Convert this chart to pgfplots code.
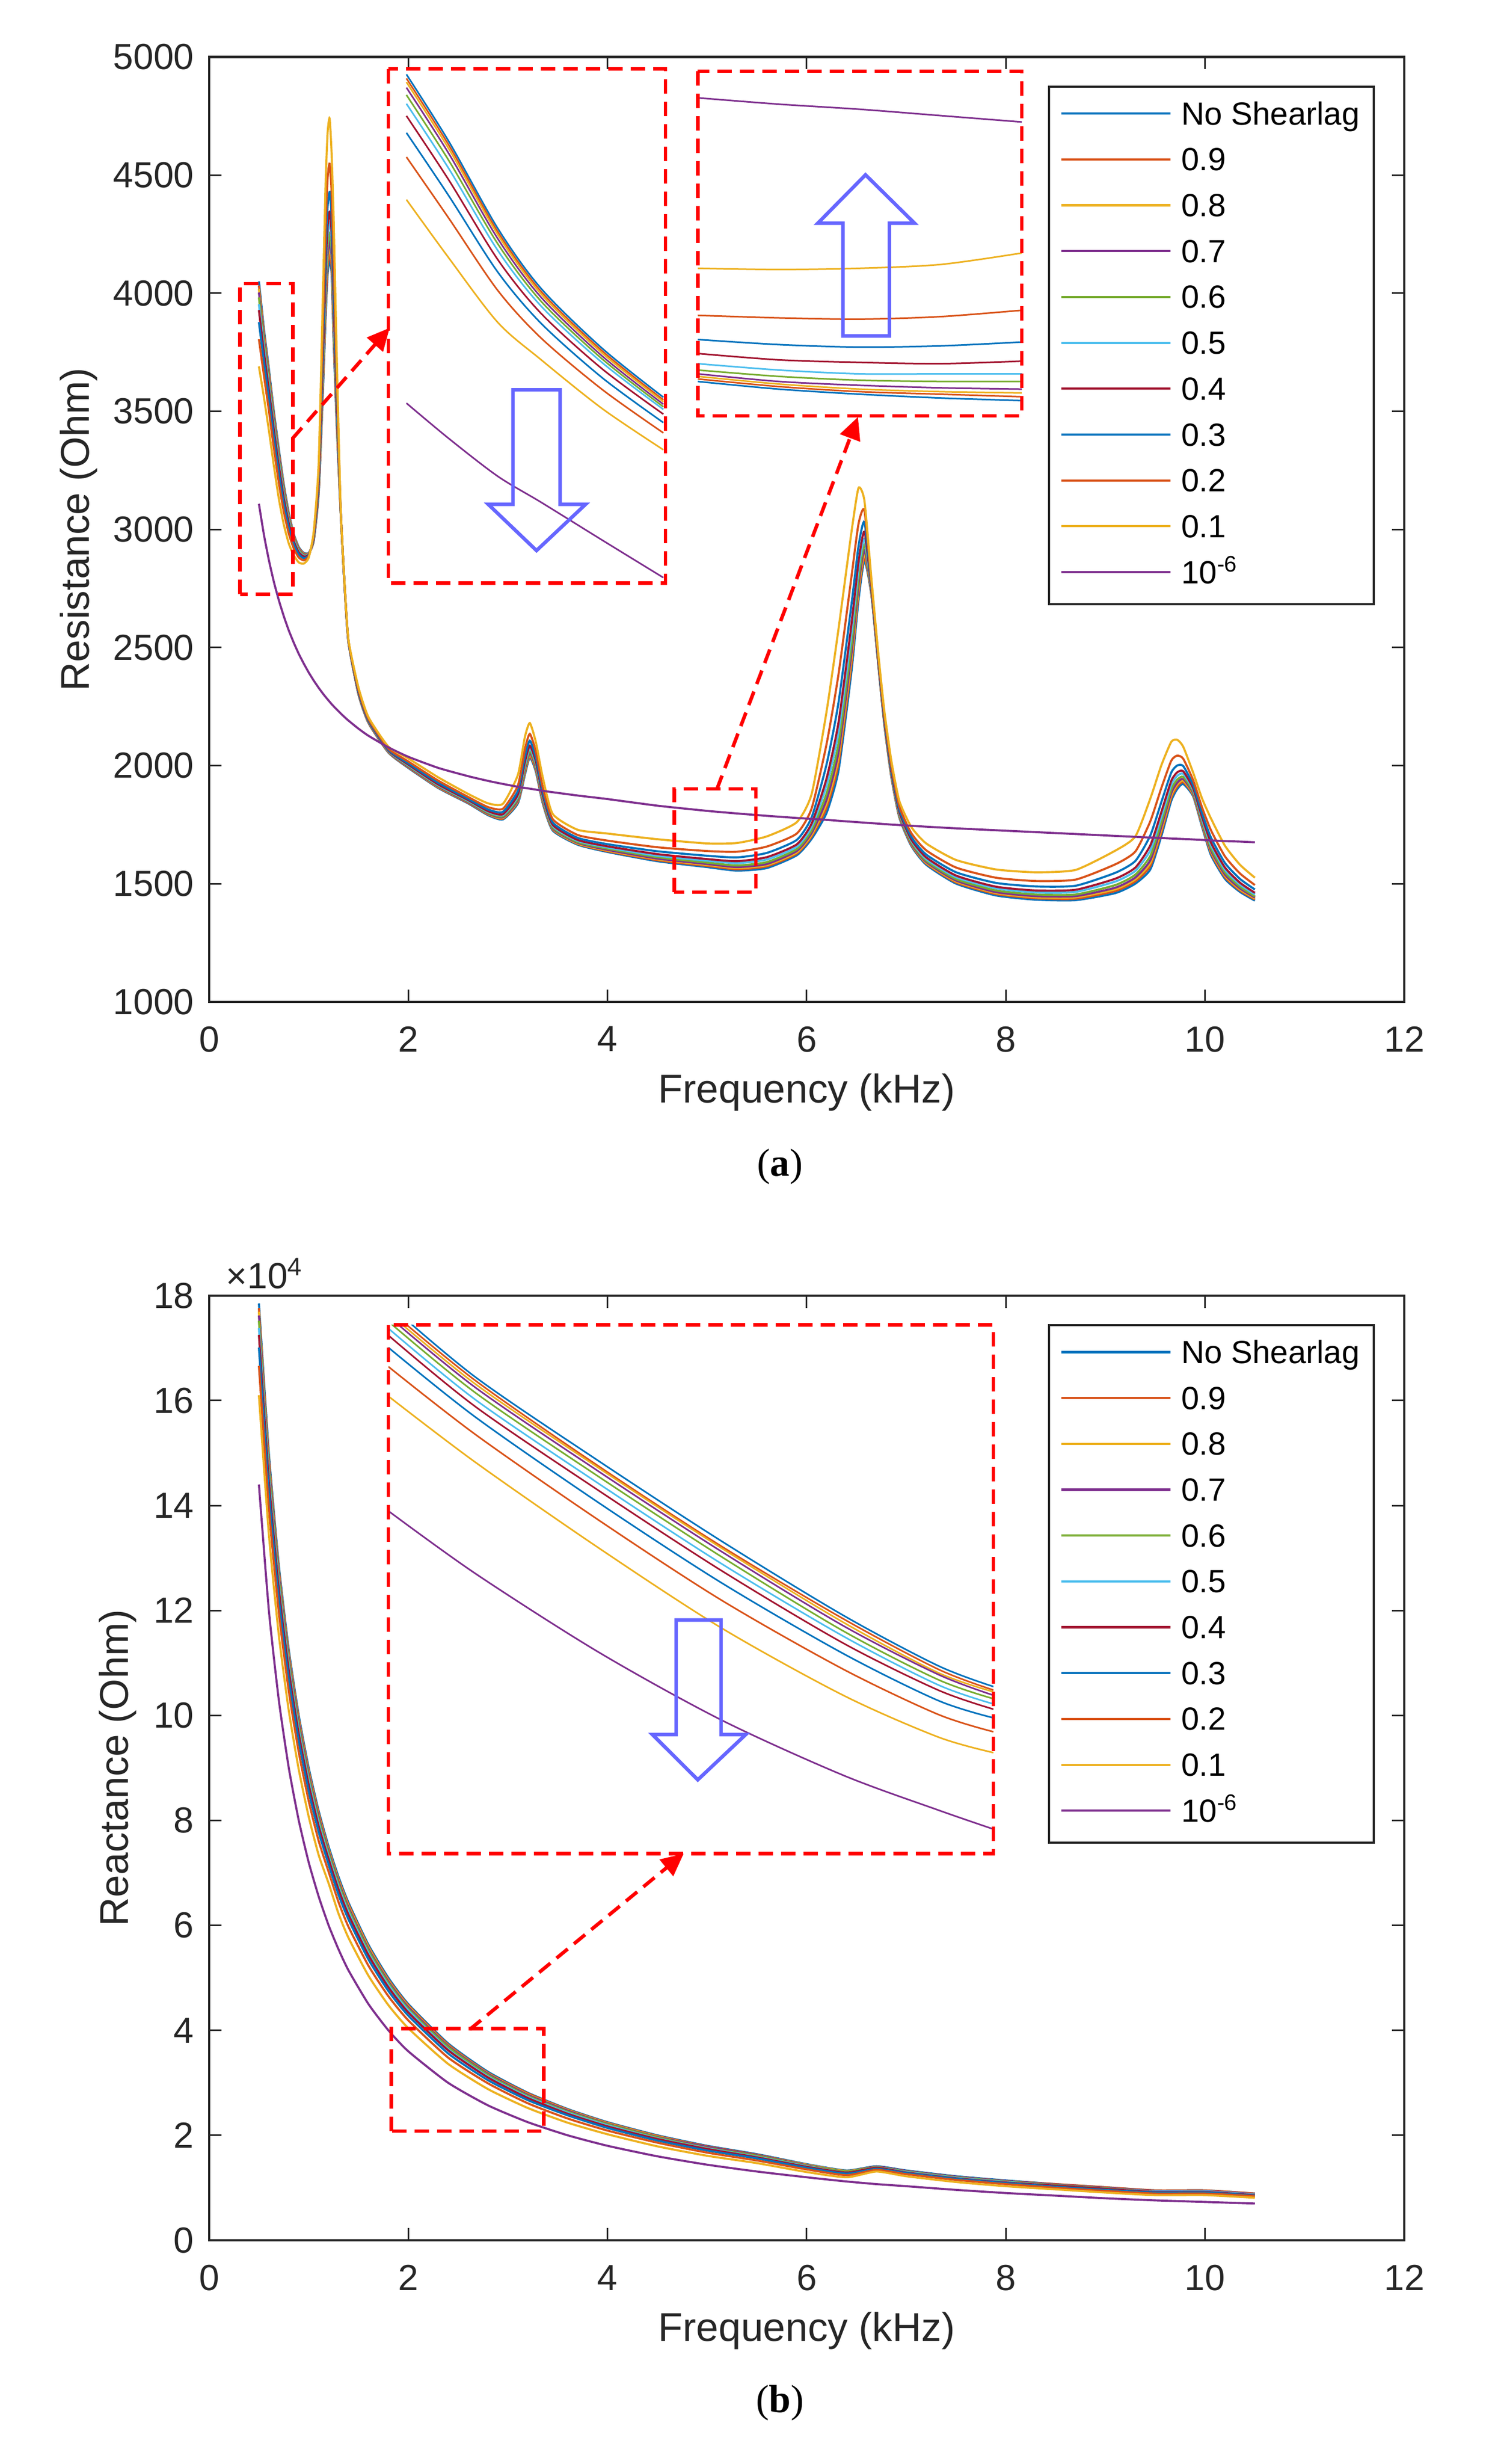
\documentclass[border=0pt]{standalone}
\usepackage{fontspec}
\setmainfont{Liberation Sans}
\newfontfamily\seriffont{Liberation Serif}
\usepackage{pgfplots}
\pgfplotsset{compat=1.18}
\usepackage{pgfplotstable}
\usetikzlibrary{arrows.meta}

\definecolor{c1}{RGB}{0,114,189}
\definecolor{c2}{RGB}{217,83,25}
\definecolor{c3}{RGB}{237,177,32}
\definecolor{c4}{RGB}{126,47,142}
\definecolor{c5}{RGB}{119,172,48}
\definecolor{c6}{RGB}{77,190,238}
\definecolor{c7}{RGB}{162,20,47}
\definecolor{axgray}{RGB}{38,38,38}
\definecolor{zoomred}{RGB}{255,0,0}
\definecolor{arrowblue}{RGB}{102,102,255}

% resistance (Ohm): ns = no shear lag, s9..s1 = 0.9..0.1, s0 = 1e-6
\pgfplotstableread{
f ns s9 s8 s7 s6 s5 s4 s3 s2 s1 s0
0.50 4050 4032 4018 4003 3982 3953 3928 3877 3805 3690 3108
0.55 3850 3835 3824 3812 3795 3772 3751 3711 3653 3560 2978
0.60 3680 3667 3657 3646 3631 3610 3592 3555 3503 3420 2870
0.65 3500 3488 3479 3470 3456 3438 3422 3390 3344 3270 2778
0.70 3340 3329 3321 3313 3300 3283 3269 3239 3197 3130 2700
0.75 3190 3181 3175 3168 3158 3144 3132 3108 3074 3020 2632
0.80 3070 3063 3058 3053 3045 3035 3026 3008 2982 2940 2572
0.85 2980 2975 2972 2968 2963 2956 2949 2937 2919 2890 2520
0.90 2925 2922 2919 2917 2913 2907 2903 2894 2881 2860 2473
0.95 2900 2898 2896 2894 2891 2888 2885 2878 2869 2855 2432
1.00 2900 2899 2898 2897 2896 2895 2893 2890 2886 2880 2394
1.05 2950 2952 2954 2955 2958 2961 2964 2969 2977 2990 2360
1.10 3150 3157 3162 3167 3175 3185 3194 3212 3238 3280 2329
1.14 3550 3570 3586 3602 3626 3658 3686 3742 3822 3950 2306
1.17 3900 3929 3951 3974 4008 4054 4094 4174 4288 4470 2290
1.19 4080 4110 4134 4158 4194 4242 4284 4368 4488 4680 2280
1.21 4140 4170 4194 4218 4254 4302 4344 4428 4548 4740 2270
1.23 4080 4106 4126 4146 4177 4218 4253 4325 4427 4590 2260
1.25 3800 3826 3847 3868 3899 3940 3977 4050 4154 4320 2251
1.28 3450 3466 3478 3490 3509 3534 3555 3599 3661 3760 2238
1.32 3080 3081 3082 3083 3084 3085 3087 3090 3094 3100 2221
1.36 2760 2760 2761 2761 2762 2763 2763 2765 2767 2770 2205
1.40 2520 2520 2521 2521 2522 2522 2523 2524 2527 2530 2190
1.50 2300 2302 2303 2304 2306 2308 2310 2314 2320 2330 2156
1.60 2180 2181 2182 2183 2185 2187 2189 2192 2197 2205 2126
1.80 2055 2056 2057 2058 2060 2062 2064 2067 2072 2080 2077
2.00 1990 1992 1994 1995 1998 2001 2004 2009 2017 2030 2037
2.30 1905 1907 1909 1911 1914 1917 1920 1927 1936 1950 1990
2.60 1840 1842 1844 1845 1848 1851 1854 1859 1867 1880 1955
2.80 1790 1793 1795 1797 1800 1804 1807 1814 1824 1840 1935
2.95 1772 1775 1778 1781 1785 1790 1794 1804 1817 1838 1922
3.10 1840 1846 1850 1854 1861 1870 1877 1893 1915 1960 1910
3.17 1960 1968 1974 1981 1990 2003 2014 2037 2069 2120 1905
3.22 2035 2042 2048 2054 2063 2074 2084 2105 2134 2180 1902
3.28 1975 1981 1986 1991 1999 2009 2018 2035 2060 2100 1898
3.35 1840 1845 1849 1853 1859 1867 1874 1888 1908 1950 1893
3.45 1725 1729 1731 1734 1738 1744 1749 1759 1773 1795 1887
3.70 1665 1668 1670 1673 1676 1681 1685 1694 1706 1728 1873
4.00 1634 1637 1640 1643 1648 1653 1658 1667 1682 1712 1858
4.50 1595 1599 1603 1606 1612 1618 1625 1637 1654 1688 1830
5.00 1570 1575 1579 1583 1589 1597 1604 1618 1638 1670 1808
5.30 1555 1561 1566 1570 1577 1587 1595 1611 1635 1672 1797
5.60 1566 1573 1578 1583 1591 1602 1612 1630 1657 1700 1787
5.90 1620 1627 1632 1638 1646 1656 1666 1685 1712 1760 1778
6.05 1690 1700 1707 1715 1726 1741 1755 1781 1819 1880 1774
6.20 1800 1822 1839 1856 1882 1916 1946 2006 2092 2230 1770
6.32 1980 2010 2034 2058 2094 2142 2184 2268 2388 2580 1766
6.45 2400 2430 2453 2477 2512 2559 2601 2683 2801 2990 1762
6.52 2700 2724 2743 2762 2790 2828 2862 2928 3023 3175 1760
6.58 2868 2882 2896 2912 2935 2960 2990 3030 3080 3120 1758
6.65 2720 2724 2726 2729 2733 2739 2744 2754 2768 2790 1756
6.72 2420 2423 2425 2427 2430 2434 2437 2444 2454 2470 1754
6.78 2170 2173 2175 2178 2181 2186 2190 2199 2211 2230 1752
6.85 1950 1954 1956 1959 1963 1969 1974 1984 1998 2020 1750
6.93 1780 1784 1786 1789 1793 1799 1804 1814 1828 1850 1748
7.05 1660 1664 1667 1670 1675 1682 1687 1698 1714 1740 1745
7.20 1580 1585 1588 1592 1597 1604 1611 1623 1641 1670 1741
7.50 1500 1505 1509 1513 1519 1527 1534 1548 1568 1600 1734
7.90 1450 1456 1460 1464 1471 1480 1487 1503 1525 1560 1726
8.30 1432 1438 1442 1447 1454 1463 1471 1488 1511 1548 1718
8.70 1430 1436 1442 1447 1454 1465 1474 1491 1517 1558 1710
9.10 1460 1469 1476 1483 1494 1509 1521 1546 1582 1640 1702
9.30 1500 1510 1518 1526 1538 1554 1568 1596 1636 1700 1698
9.45 1560 1575 1587 1599 1617 1641 1662 1704 1764 1860 1695
9.56 1700 1715 1727 1739 1757 1781 1802 1844 1904 2000 1693
9.66 1850 1863 1873 1883 1898 1918 1935 1970 2020 2100 1691
9.72 1900 1910 1919 1927 1940 1956 1971 2000 2042 2109 1690
9.78 1922 1930 1936 1943 1952 1965 1976 1998 2029 2080 1689
9.88 1870 1875 1879 1883 1889 1897 1904 1918 1938 1970 1687
9.97 1740 1746 1751 1756 1763 1772 1781 1798 1822 1860 1685
10.06 1620 1628 1634 1640 1649 1662 1673 1694 1725 1775 1683
10.20 1520 1527 1533 1538 1547 1558 1568 1587 1615 1660 1680
10.35 1465 1471 1475 1480 1487 1496 1504 1520 1543 1580 1678
10.50 1428 1433 1437 1441 1446 1454 1461 1475 1494 1525 1675
}\resist

% reactance (x 10^4 Ohm)
\pgfplotstableread{
f ns s9 s8 s7 s6 s5 s4 s3 s2 s1 s0
0.5 17.85 17.76 17.69 17.62 17.52 17.38 17.25 17.01 16.66 16.10 14.40
0.6 15.00 14.92 14.86 14.80 14.71 14.58 14.47 14.26 13.95 13.45 12.00
0.7 12.86 12.79 12.74 12.69 12.61 12.50 12.41 12.22 11.96 11.53 10.29
0.8 11.25 11.19 11.15 11.10 11.03 10.94 10.86 10.69 10.46 10.09 9.00
0.9 10.00 9.95 9.91 9.87 9.80 9.72 9.65 9.51 9.30 8.97 8.00
1.0 9.00 8.95 8.92 8.88 8.82 8.75 8.68 8.55 8.37 8.07 7.20
1.1 8.18 8.14 8.10 8.07 8.02 7.95 7.89 7.78 7.61 7.34 6.55
1.2 7.50 7.46 7.44 7.41 7.37 7.31 7.26 7.16 7.02 6.80 6.00
1.3 6.92 6.88 6.86 6.83 6.79 6.73 6.68 6.58 6.44 6.22 5.54
1.4 6.43 6.40 6.37 6.34 6.30 6.25 6.20 6.11 5.97 5.76 5.14
1.6 5.63 5.60 5.58 5.55 5.52 5.47 5.43 5.35 5.23 5.04 4.50
1.8 5.00 4.97 4.95 4.93 4.90 4.86 4.82 4.75 4.65 4.48 4.00
2.0 4.50 4.48 4.46 4.44 4.41 4.38 4.34 4.28 4.19 4.04 3.60
2.4 3.75 3.73 3.71 3.70 3.68 3.64 3.62 3.56 3.48 3.36 3.00
2.8 3.21 3.19 3.18 3.17 3.15 3.12 3.10 3.05 2.99 2.88 2.57
3.2 2.81 2.80 2.78 2.77 2.75 2.73 2.71 2.67 2.61 2.52 2.25
3.6 2.50 2.49 2.48 2.47 2.45 2.43 2.41 2.38 2.32 2.24 2.00
4.0 2.25 2.24 2.23 2.22 2.21 2.19 2.17 2.14 2.09 2.02 1.80
4.5 2.00 1.99 1.98 1.97 1.96 1.94 1.93 1.90 1.86 1.79 1.60
5.0 1.80 1.79 1.78 1.78 1.76 1.75 1.74 1.71 1.67 1.61 1.44
5.5 1.64 1.63 1.62 1.62 1.61 1.59 1.58 1.56 1.52 1.47 1.31
6.0 1.45 1.44 1.44 1.43 1.42 1.41 1.40 1.38 1.35 1.30 1.20
6.4 1.33 1.32 1.32 1.31 1.31 1.29 1.29 1.27 1.24 1.20 1.12
6.7 1.41 1.40 1.40 1.40 1.39 1.38 1.38 1.36 1.34 1.31 1.07
7.0 1.33 1.32 1.32 1.32 1.31 1.30 1.29 1.28 1.26 1.22 1.03
7.5 1.22 1.21 1.21 1.21 1.20 1.19 1.18 1.17 1.15 1.11 0.96
8.0 1.14 1.13 1.13 1.13 1.12 1.11 1.10 1.09 1.07 1.03 0.90
8.5 1.07 1.07 1.06 1.06 1.05 1.04 1.04 1.02 1.00 0.97 0.85
9.0 1.01 1.01 1.00 1.00 0.99 0.98 0.98 0.96 0.94 0.91 0.80
9.5 0.95 0.95 0.94 0.94 0.93 0.93 0.92 0.91 0.89 0.86 0.76
10.0 0.95 0.95 0.94 0.94 0.93 0.93 0.92 0.91 0.89 0.86 0.73
10.5 0.89 0.89 0.88 0.88 0.87 0.87 0.86 0.85 0.84 0.81 0.70
}\react

% zoomed views
\pgfplotstableread{
f ns s9 s8 s7 s6 s5 s4 s3 s2 s1 s0
0.500 4085 4074 4064 4049 4029 4005 3972 3926 3860 3744 3190
0.558 3901 3891 3881 3868 3849 3827 3796 3753 3692 3584 3093
0.624 3666 3657 3649 3638 3624 3606 3581 3547 3497 3410 2991
0.683 3502 3494 3487 3478 3467 3454 3434 3407 3367 3308 2920
0.766 3339 3332 3326 3318 3310 3300 3283 3259 3227 3175 2817
0.849 3206 3199 3194 3187 3180 3173 3160 3137 3109 3063 2715
}\zoomA

\pgfplotstableread{
f ns s9 s8 s7 s6 s5 s4 s3 s2 s1 s0
4.7 1586 1588 1590 1592 1595 1600 1608 1619 1638 1675 1809
4.9 1580 1582 1584 1586 1590 1595 1603 1615 1636 1674 1804
5.1 1576 1578 1580 1583 1587 1592 1601 1613 1635 1675 1800
5.3 1573 1576 1578 1581 1586 1592 1600 1614 1637 1678 1795
5.5 1571 1574 1577 1580 1586 1592 1602 1617 1642 1687 1790
}\zoomB

\pgfplotstableread{
f ns s9 s8 s7 s6 s5 s4 s3 s2 s1 s0
1.83 5.14 5.11 5.09 5.07 5.04 5.00 4.96 4.89 4.78 4.61 3.95
2.05 4.72 4.70 4.68 4.66 4.63 4.59 4.55 4.49 4.39 4.23 3.59
2.36 4.24 4.21 4.20 4.18 4.15 4.11 4.07 4.00 3.90 3.74 3.14
2.67 3.78 3.75 3.74 3.72 3.69 3.65 3.61 3.54 3.44 3.28 2.75
2.98 3.35 3.33 3.31 3.29 3.26 3.23 3.19 3.13 3.04 2.89 2.43
3.22 3.06 3.04 3.02 3.01 2.98 2.95 2.92 2.86 2.78 2.65 2.23
3.36 2.94 2.92 2.91 2.89 2.87 2.84 2.81 2.76 2.68 2.56 2.12
}\zoomC

\newcommand\allseries[1]{%
  \addplot[c1] table[x=f,y=ns]{#1};
  \addplot[c2] table[x=f,y=s9]{#1};
  \addplot[c3] table[x=f,y=s8]{#1};
  \addplot[c4] table[x=f,y=s7]{#1};
  \addplot[c5] table[x=f,y=s6]{#1};
  \addplot[c6] table[x=f,y=s5]{#1};
  \addplot[c7] table[x=f,y=s4]{#1};
  \addplot[c1] table[x=f,y=s3]{#1};
  \addplot[c2] table[x=f,y=s2]{#1};
  \addplot[c3] table[x=f,y=s1]{#1};
  \addplot[c4] table[x=f,y=s0]{#1};
}

\tikzset{
  zoombox/.style={zoomred, line width=1.1pt, dash pattern=on 4.5pt off 2.5pt},
  zoomarrow/.style={zoomred, line width=1.1pt, dash pattern=on 4.5pt off 2.5pt,
    -{Triangle[length=7pt,width=6.5pt]}},
  bluearrow/.style={arrowblue, line width=1.1pt, line join=miter},
}

\pgfplotsset{
  mainax/.style={
    scale only axis, width=372.35pt, height=294.2pt, anchor=north west,
    xmin=0, xmax=12, xtick={0,2,...,12},
    tick align=inside, tick pos=both, major tick length=3.8pt,
    axis line style={axgray, line width=0.7pt},
    tick style={axgray, line width=0.5pt},
    tick label style={font=\fontsize{11.3}{13}\selectfont, text=axgray},
    xticklabel style={yshift=-4.2pt},
    yticklabel style={xshift=-1.2pt},
    label style={font=\fontsize{12.5}{15}\selectfont, text=axgray},
    xlabel={Frequency (kHz)},
    x label style={at={(axis description cs:0.5,-0.107)}, anchor=base},
    y label style={anchor=center},
    /pgf/number format/assume math mode=true,
    /pgf/number format/1000 sep={},
    scaled ticks=false, no markers,
    every axis plot/.append style={line width=0.65pt, smooth, tension=0.35},
    legend entries={No Shearlag,0.9,0.8,0.7,0.6,0.5,0.4,0.3,0.2,0.1,10\textsuperscript{-6}},
    legend style={at={(axis description cs:0.7122,0.952)}, anchor=north west,
      draw=none, fill=none, inner sep=0pt, outer sep=0pt,
      row sep=7.28pt, column sep=3pt,
      font=\fontsize{10}{11}\selectfont,
      nodes={inner sep=0pt, text height=7pt, text depth=0pt},
      cells={anchor=west}},
    legend image code/.code={\draw[##1, line width=0.7pt, sharp plot] (0pt,0pt) -- (34pt,0pt);},
  },
  insetax/.style={
    hide axis, scale only axis, anchor=north west, clip=true, no markers,
    every axis plot/.append style={line width=0.5pt, smooth, tension=0.5},
  },
}

\begin{document}
\begin{tikzpicture}
\useasboundingbox (0,0) rectangle (464.67pt,-767.33pt);

% (a) resistance
\begin{axis}[mainax, at={(65.15pt,-17.75pt)},
  ymin=1000, ymax=5000, ytick={1000,1500,...,5000},
  ylabel={Resistance (Ohm)},
  y label style={at={(axis description cs:-0.109,0.5)}}]
\allseries{\resist}
\draw[axgray, line width=0.6pt] (axis description cs:0.7028,0.9687) rectangle (axis description cs:0.9745,0.4209);
\draw[zoombox] (axis cs:0.31,2725) rectangle (axis cs:0.84,4040);
\draw[zoombox] (axis cs:4.67,1464) rectangle (axis cs:5.49,1901);
\end{axis}

\begin{axis}[insetax, at={(121pt,-21.45pt)}, width=86.35pt, height=160.15pt,
  xmin=0.4755, xmax=0.852, ymin=2700, ymax=4100]
\allseries{\zoomA}
\end{axis}

\begin{axis}[insetax, at={(217.4pt,-22.15pt)}, width=100.95pt, height=107.35pt,
  xmin=4.7, xmax=5.5, ymin=1559, ymax=1830]
\allseries{\zoomB}
\end{axis}

\draw[zoombox] (121pt,-21.45pt) rectangle (207.35pt,-181.6pt);
\draw[zoombox] (217.4pt,-22.15pt) rectangle (318.35pt,-129.5pt);
\draw[zoomarrow] (91.1pt,-136.6pt) -- (121.4pt,-102.1pt);
\draw[zoomarrow] (223.35pt,-245.75pt) -- (267.3pt,-129.85pt);
\draw[bluearrow] (159.8pt,-121.4pt) -- (174.5pt,-121.4pt) -- (174.5pt,-157.05pt) -- (182.45pt,-157.05pt)
  -- (167.15pt,-171.45pt) -- (152.1pt,-157.05pt) -- (159.8pt,-157.05pt) -- cycle;
\draw[bluearrow] (262.6pt,-104.6pt) -- (277.1pt,-104.6pt) -- (277.1pt,-69.5pt) -- (284.9pt,-69.5pt)
  -- (269.65pt,-54.45pt) -- (254.8pt,-69.5pt) -- (262.6pt,-69.5pt) -- cycle;

\node[anchor=base, font=\seriffont\fontsize{12.2}{14}\selectfont] at (243pt,-366.2pt) {(\textbf{a})};

% (b) reactance
\begin{axis}[mainax, at={(65.15pt,-403.45pt)},
  ymin=0, ymax=18, ytick={0,2,...,18},
  ylabel={Reactance (Ohm)},
  y label style={at={(axis description cs:-0.0763,0.5)}}]
\allseries{\react}
\draw[axgray, line width=0.6pt] (axis description cs:0.7028,0.9687) rectangle (axis description cs:0.9745,0.4209);
\draw[zoombox] (axis cs:1.83,2.08) rectangle (axis cs:3.36,4.03);
\end{axis}

\begin{axis}[insetax, at={(121pt,-412.6pt)}, width=188.5pt, height=164.6pt,
  xmin=1.83, xmax=3.36, ymin=1.98, ymax=5.02]
\allseries{\zoomC}
\end{axis}

\draw[zoombox] (121pt,-412.6pt) rectangle (309.5pt,-577.2pt);
\draw[zoomarrow] (146.35pt,-632pt) -- (213pt,-577.25pt);
\draw[bluearrow] (210.65pt,-504.5pt) -- (224.65pt,-504.5pt) -- (224.65pt,-540.15pt) -- (232.35pt,-540.15pt)
  -- (217.4pt,-554.25pt) -- (203.25pt,-540.15pt) -- (210.65pt,-540.15pt) -- cycle;

\node[anchor=base west, text=axgray, font=\fontsize{11.3}{13}\selectfont] at (66.95pt,-401.2pt) {×10\textsuperscript{4}};

\node[anchor=base, font=\seriffont\fontsize{12.2}{14}\selectfont] at (243pt,-751.2pt) {(\textbf{b})};
\end{tikzpicture}
\end{document}
